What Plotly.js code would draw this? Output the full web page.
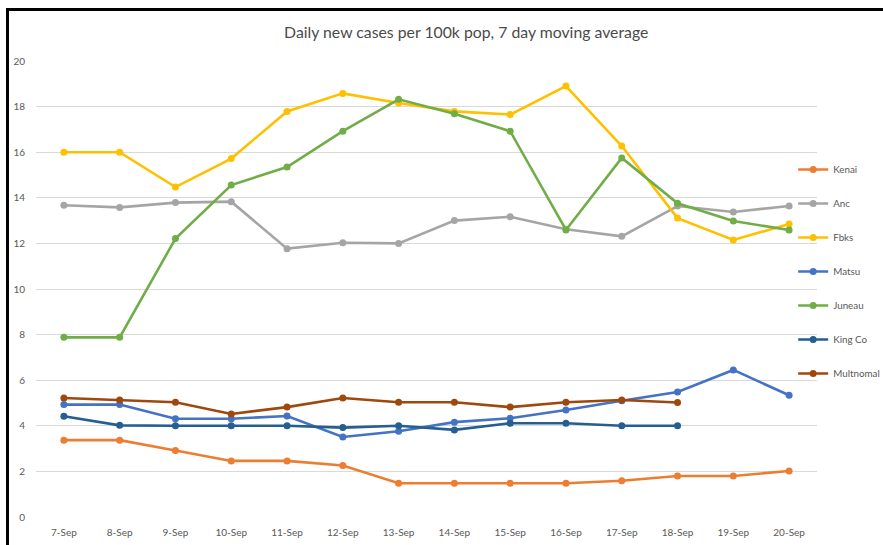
<!DOCTYPE html>
<html>
<head>
<meta charset="utf-8">
<script src="https://cdn.plot.ly/plotly-3.0.1.min.js"></script>
<style>
  html, body { margin: 0; padding: 0; background: #ffffff; }
  #wrap { position: relative; width: 883px; height: 545px; overflow: hidden; }
  #chart { position: absolute; left: 0; top: 0; width: 883px; height: 545px; }
  #btop { position: absolute; left: 6px; top: 8px; width: 877px; height: 3px; background: #000; pointer-events: none; }
  #bleft { position: absolute; left: 6px; top: 8px; width: 3px; height: 537px; background: #000; pointer-events: none; }
</style>
</head>
<body>
<div id="wrap">
  <div id="chart"></div>
  <div id="btop"></div>
  <div id="bleft"></div>
</div>
<script>
const categories = ["7-Sep","8-Sep","9-Sep","10-Sep","11-Sep","12-Sep","13-Sep","14-Sep","15-Sep","16-Sep","17-Sep","18-Sep","19-Sep","20-Sep"];

const kenai     = [3.37, 3.37, 2.92, 2.46, 2.46, 2.26, 1.48, 1.48, 1.48, 1.48, 1.59, 1.80, 1.80, 2.02];
const anc       = [13.67, 13.58, 13.79, 13.83, 11.77, 12.03, 12.00, 13.00, 13.17, 12.62, 12.31, 13.64, 13.38, 13.64];
const fbks      = [16.00, 16.00, 14.47, 15.72, 17.79, 18.58, 18.16, 17.79, 17.65, 18.90, 16.27, 13.11, 12.15, 12.85];
const matsu     = [4.93, 4.93, 4.31, 4.31, 4.43, 3.51, 3.76, 4.16, 4.33, 4.69, 5.10, 5.48, 6.45, 5.34];
const juneau    = [7.88, 7.88, 12.21, 14.56, 15.35, 16.92, 18.32, 17.69, 16.92, 12.59, 15.75, 13.76, 12.98, 12.59];
const kingCo    = [4.42, 4.02, 4.00, 4.00, 4.00, 3.92, 4.00, 3.82, 4.11, 4.11, 4.00, 4.00, null, null];
const multnomah = [5.22, 5.13, 5.03, 4.52, 4.82, 5.22, 5.03, 5.03, 4.82, 5.03, 5.13, 5.02, null, null];

const seriesNames = ["Kenai", "Anc", "Fbks", "Matsu", "Juneau", "King Co", "Multnomal"];
const seriesData = [kenai, anc, fbks, matsu, juneau, kingCo, multnomah];
const seriesColors = ["#ED7D31", "#A5A5A5", "#FFC000", "#4472C4", "#70AD47", "#255E91", "#9E480E"];

const yTicks = [0, 2, 4, 6, 8, 10, 12, 14, 16, 18, 20];
const titleText = "Daily new cases per 100k pop, 7 day moving average";

const FONT = "Lato, 'Open Sans', 'Liberation Sans', sans-serif";

const traces = seriesNames.map((name, i) => ({
  type: "scatter",
  mode: "lines+markers",
  name: name,
  legendgroup: "g" + i,
  x: categories,
  y: seriesData[i],
  connectgaps: false,
  line: { color: seriesColors[i], width: 2.6 },
  marker: { color: seriesColors[i], size: 7, symbol: "circle" },
  hoverinfo: "x+y+name"
}));

const layout = {
  width: 883,
  height: 545,
  paper_bgcolor: "#ffffff",
  plot_bgcolor: "#ffffff",
  margin: { l: 36, r: 66, t: 61, b: 28, autoexpand: false },
  font: { family: FONT, color: "#595959", size: 10 },
  title: {
    text: titleText,
    font: { family: FONT, size: 15.8, color: "#4a4a4a" },
    x: 0.528, xref: "container", xanchor: "center",
    y: 0.94, yref: "container", yanchor: "middle"
  },
  xaxis: {
    type: "category",
    range: [-0.5, 13.5],
    showgrid: false,
    zeroline: false,
    showline: false,
    ticks: "",
    tickfont: { family: FONT, size: 10, color: "#595959" },
    ticklabelstandoff: 8,
    fixedrange: true
  },
  yaxis: {
    range: [0, 20],
    tickvals: yTicks,
    ticktext: yTicks.map(String),
    showgrid: true,
    gridcolor: "#D9D9D9",
    gridwidth: 1,
    zeroline: false,
    showline: false,
    ticks: "",
    tickfont: { family: FONT, size: 10, color: "#595959" },
    ticklabelstandoff: 10,
    fixedrange: true
  },
  showlegend: true,
  legend: {
    x: 0.9695, xanchor: "left",
    y: 0.794, yanchor: "top",
    font: { family: FONT, size: 9.8, color: "#595959" },
    tracegroupgap: 15,
    itemwidth: 30,
    bgcolor: "rgba(0,0,0,0)"
  }
};

Plotly.newPlot("chart", traces, layout, { displayModeBar: false, staticPlot: true });
</script>
</body>
</html>
